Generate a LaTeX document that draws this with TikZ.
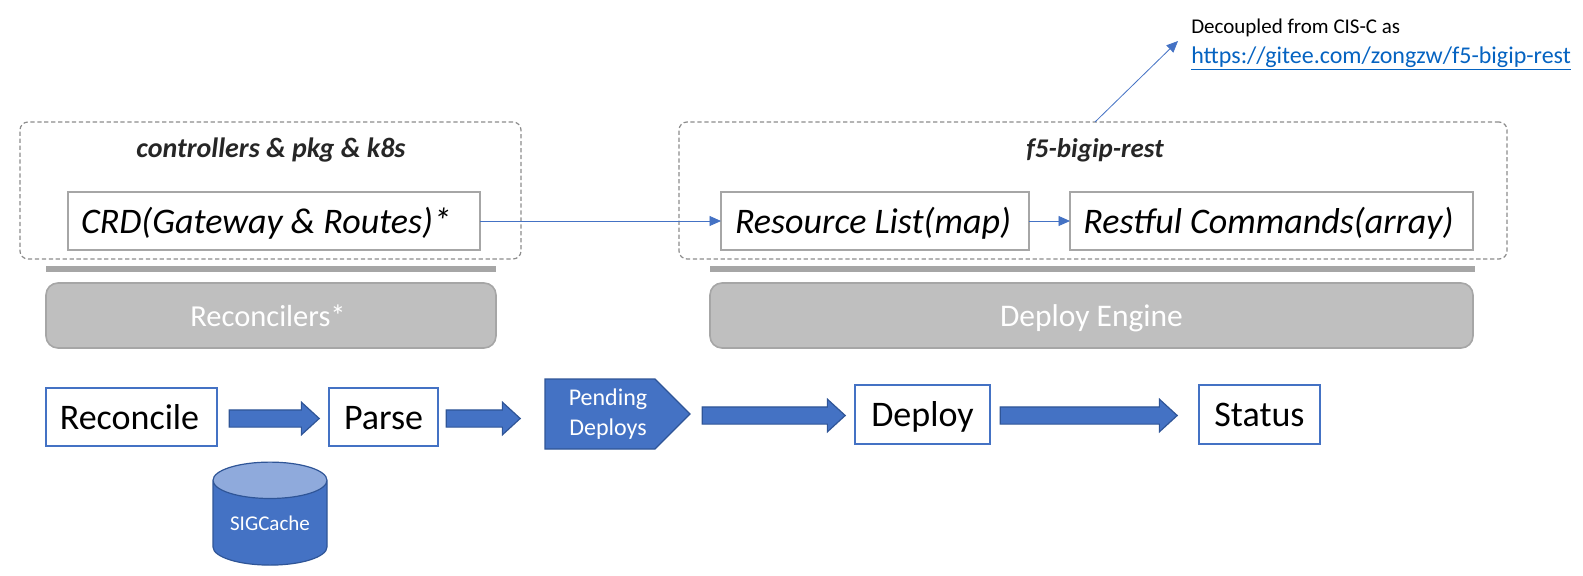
\documentclass[tikz,border=0pt]{standalone}
\usepackage{fontspec}
\setmainfont{Carlito}
\usetikzlibrary{shapes.geometric,shapes.symbols,shapes.arrows,arrows.meta}
\definecolor{bluefill}{HTML}{4472C4}
\definecolor{blueedge}{HTML}{2F5597}
\definecolor{bluetop}{HTML}{8FAADC}
\definecolor{greyedge}{HTML}{A6A6A6}
\definecolor{greyfill}{HTML}{BFBFBF}
\definecolor{dashgrey}{HTML}{8C8C8C}
\definecolor{linkblue}{HTML}{0563C1}
\newcommand{\pxfont}[1]{\fontsize{\dimexpr#1pt*3/4\relax}{\dimexpr#1pt*9/10\relax}\selectfont}
\tikzset{
  x=0.75pt,y=-0.75pt,
  span/.style n args={4}{at={({(#1+#3)/2},{(#2+#4)/2})},minimum width={(#3-#1)*0.75pt},minimum height={(#4-#2)*0.75pt},inner sep=0pt,outer sep=0pt,anchor=center},
  arrowspan/.style n args={4}{at={({(#1+#3)/2},{(#2+#4)/2})},minimum height={(#3-#1)*0.75pt},minimum width={(#4-#2)*0.75pt},anchor=center},
  sized/.style={font=\pxfont{#1},text height={0.765*#1*0.75pt},text depth={0.075*#1*0.75pt}},
  groupbox/.style={draw=dashgrey,line width=0.9pt,dashed,dash pattern=on 3.2pt off 2pt,rounded corners=6pt},
  itembox/.style={draw=greyedge,line width=1.3pt,fill=white},
  grouptitle/.style={text=black!85,inner sep=0pt},
  barshape/.style={fill=greyedge,draw=none},
  engine/.style={draw=greyedge,line width=1.2pt,fill=greyfill,rounded corners=9pt,text=white},
  stepbox/.style={draw=bluefill,line width=1.3pt,fill=white,sized=36},
  thin link/.style={draw=bluefill,line width=0.6pt,-{Triangle[length=8.6pt,width=7.5pt]}},
  blockarrow/.style={single arrow,draw=blueedge,line width=0.9pt,fill=bluefill,inner sep=0pt,inner ysep=6pt,inner xsep=0pt,
    single arrow head extend=5.8pt,single arrow tip angle=85,outer sep=0pt},
  note/.style={font=\pxfont{21},inner sep=0pt,anchor=base west},
}
\begin{document}
\begin{tikzpicture}
\useasboundingbox (0,0) rectangle (1583,575);
% groups
\node[groupbox,span={20}{122}{521}{259}] (g1) {};
\node[groupbox,span={679}{122}{1507}{259}] (g2) {};
\node[grouptitle,font=\pxfont{28}\bfseries\itshape] (t1) at (271,150) {controllers \& pkg \& k8s};
\node[grouptitle,font=\pxfont{27}\bfseries\itshape] (t2) at (1095,150) {f5-bigip-rest};
% items
\node[itembox,span={68}{192}{480}{250},sized=36] (crd) {\itshape CRD(Gateway \& Routes)*\hspace*{12pt}};
\node[itembox,span={721}{192}{1029}{250},sized=36] (res) {\itshape Resource List(map)\hspace*{3pt}};
\node[itembox,span={1070}{192}{1473}{250},sized=36] (rest) {\itshape Restful Commands(array)\hspace*{4.5pt}};
\draw[thin link] (crd.east) -- (res.west);
\draw[thin link] (res.east) -- (rest.west);
% bars and engines
\node[barshape,span={46}{266}{496}{272}] (b1) {};
\node[barshape,span={710}{266}{1475}{272}] (b2) {};
\node[engine,span={46}{283}{496}{348},sized=30.5] (e1) {Reconcilers*\hspace*{4.5pt}};
\node[engine,span={710}{283}{1473}{348},sized=31.5] (e2) {Deploy Engine};
% note
\coordinate (notetip) at (1178,41);
\coordinate (g2out) at (1095,122);
\draw[thin link] (g2out) -- (notetip);
\node[note] (n1) at (1191,33) {Decoupled from CIS-C as};
\node[note,text=linkblue,font=\pxfont{24}] (n2) at (1191,63) {\underline{https://gitee.com/zongzw/f5-bigip-rest}};
% steps
\node[stepbox,span={46}{388}{217}{446}] (s1) {Reconcile\hspace*{3pt}};
\node[stepbox,span={329}{388}{438}{446}] (s2) {Parse};
\node[signal,signal to=east,signal pointer angle=90,draw=blueedge,line width=0.9pt,fill=bluefill,text=white,
  span={527.5}{379}{672.5}{449},align=center,font=\pxfont{24}] (s3) {\hspace*{12pt}Pending\\[1.5pt]\hspace*{12pt}Deploys};
\node[stepbox,span={855}{385}{990}{444}] (s4) {Deploy};
\node[stepbox,span={1199}{385}{1320}{444}] (s5) {Status};
\node[blockarrow,arrowspan={224.5}{403}{314.5}{434}] (a1) {};
\node[blockarrow,arrowspan={441.5}{403}{515.5}{434}] (a2) {};
\node[blockarrow,arrowspan={697.5}{400}{840.5}{431}] (a3) {};
\node[blockarrow,arrowspan={995.5}{400}{1172.5}{431}] (a4) {};
% cylinder
\node[cylinder,shape border rotate=90,aspect=0.456,draw=blueedge,line width=0.9pt,cylinder uses custom fill,
  cylinder body fill=bluefill,cylinder end fill=bluetop,text=white,font=\pxfont{21},
  span={213}{471.5}{327}{574.5}] (c) {SIGCache};
\end{tikzpicture}
\end{document}
